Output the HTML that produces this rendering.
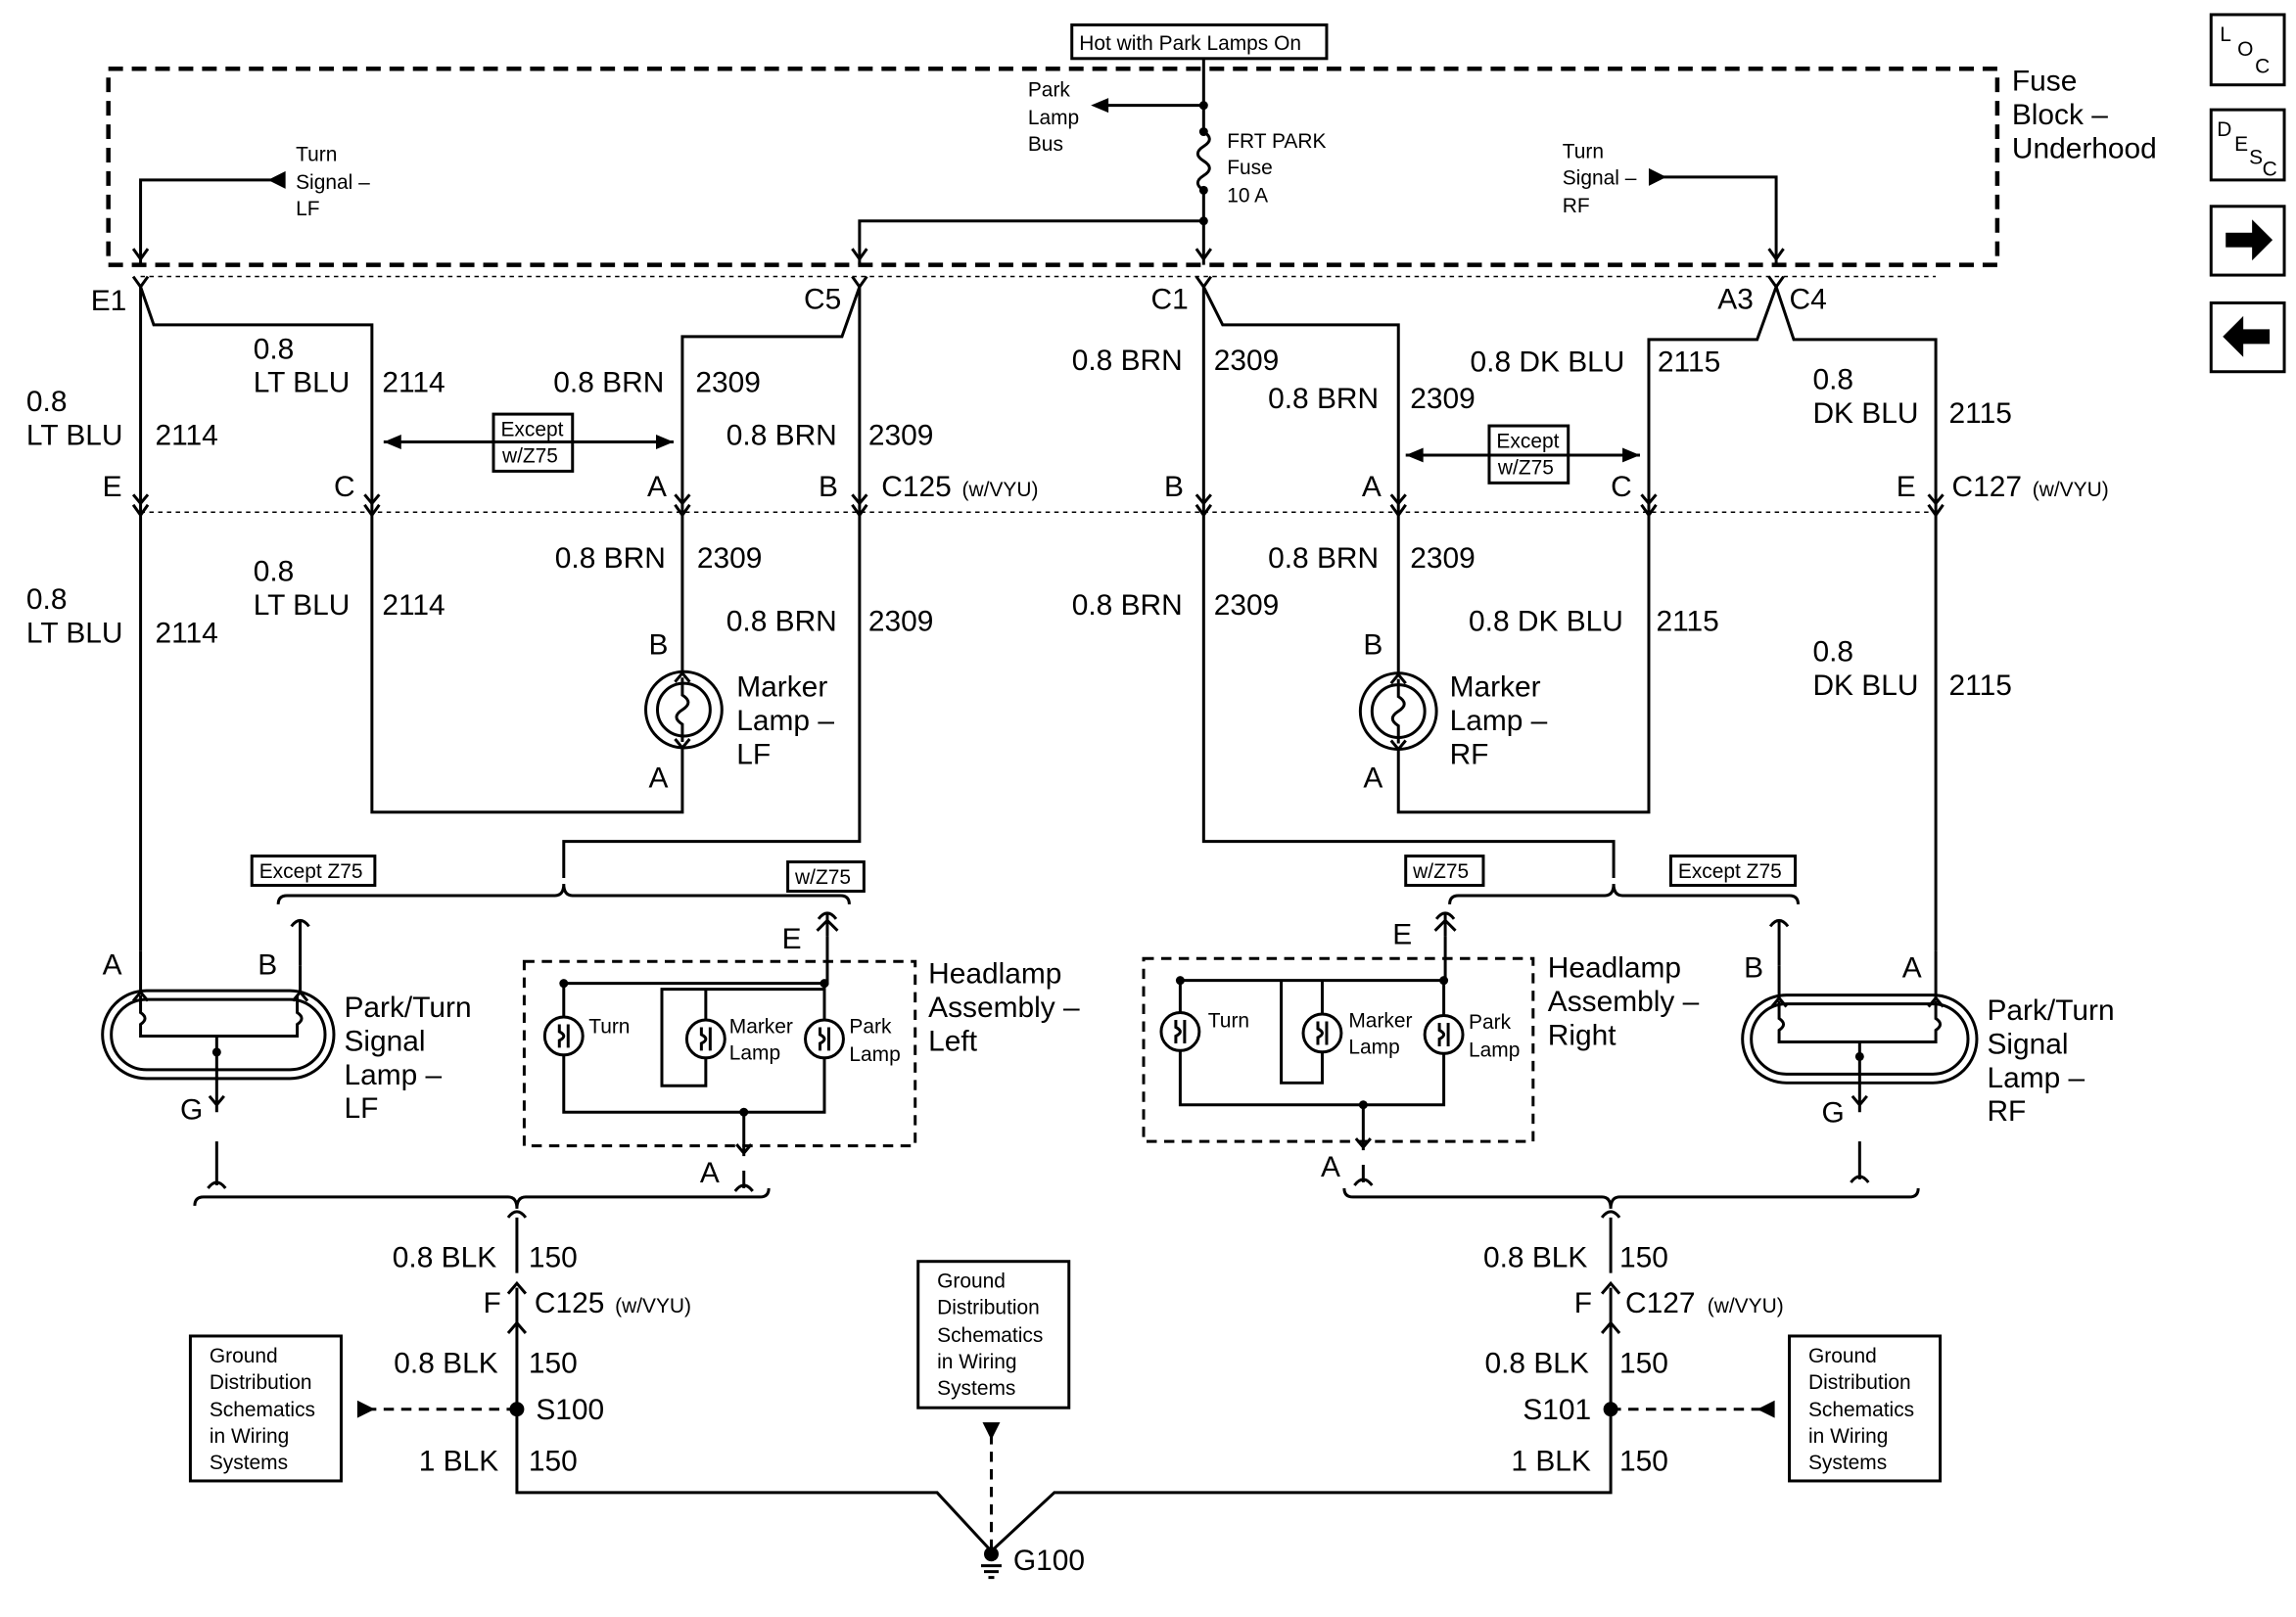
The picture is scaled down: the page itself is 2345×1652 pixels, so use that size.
<!DOCTYPE html>
<html><head><meta charset="utf-8"><style>
html,body{margin:0;padding:0;background:#fff;}
svg{display:block;}
text{font-family:"Liberation Sans",Arial,sans-serif;fill:#000;}
.l{font-size:20px;}
.s{font-size:14px;}
.w{stroke:#000;stroke-width:2;fill:none;}
.d{stroke:#000;stroke-width:2;fill:none;stroke-dasharray:7,5;}
.dt{stroke:#000;stroke-width:1;fill:none;stroke-dasharray:3,3;}
.dk{stroke:#000;stroke-width:3;fill:none;stroke-dasharray:10,6;}
</style></head><body>
<svg width="2345" height="1652" viewBox="0 0 1568 1105" preserveAspectRatio="none" xmlns="http://www.w3.org/2000/svg">
<defs>
<g id="cv"><path d="M-5,-7 L0,0 L5,-7" class="w"/></g>
<g id="bulb"><circle r="13" class="w"/><path d="M-3,-8 L-3,-3 q6,3 0,6 L-3,8 M3,-8 L3,8" class="w" stroke-width="1.5"/></g>
</defs>

<rect x="732" y="17" width="174" height="23" class="w"/>
<text x="737" y="34" class="s">Hot with Park Lamps On</text>
<rect x="74" y="47" width="1290" height="134" class="dk"/>
<text x="1374" y="62" class="l">Fuse</text>
<text x="1374" y="85" class="l">Block –</text>
<text x="1374" y="108" class="l">Underhood</text>

<rect x="1510" y="10" width="50" height="48" class="w"/>
<text x="1516" y="28" class="s">L</text><text x="1528" y="38" class="s">O</text><text x="1540" y="50" class="s">C</text>
<rect x="1510" y="75" width="50" height="48" class="w"/>
<text x="1514" y="93" class="s">D</text><text x="1526" y="103" class="s">E</text><text x="1536" y="112" class="s">S</text><text x="1545" y="120" class="s">C</text>
<rect x="1510" y="141" width="50" height="47" class="w"/>
<path d="M1520,159 h18 v-9 l14,14 l-14,14 v-9 h-18z" fill="#000"/>
<rect x="1510" y="207" width="50" height="47" class="w"/>
<path d="M1550,225 h-18 v-9 l-14,14 l14,14 v-9 h18z" fill="#000"/>

<path d="M822,40 V90 M822,130 V181" class="w"/>
<path d="M822,90 q8,5 0,10 q-8,5 0,10 q8,5 0,10 q-8,5 0,10" class="w"/>
<circle cx="822" cy="72" r="3"/><circle cx="822" cy="90" r="3"/><circle cx="822" cy="130" r="3"/><circle cx="822" cy="151" r="3"/>
<path d="M822,72 H755" class="w"/><path d="M745,72 l12,-5 v10z"/>
<text x="702" y="66" class="s">Park</text><text x="702" y="85" class="s">Lamp</text><text x="702" y="103" class="s">Bus</text>
<text x="838" y="101" class="s">FRT PARK</text><text x="838" y="119" class="s">Fuse</text><text x="838" y="138" class="s">10 A</text>
<path d="M822,151 H587 V181" class="w"/>
<path d="M185,123 H96 V181" class="w"/><path d="M183,123 l12,-6 v12z"/>
<text x="202" y="110" class="s">Turn</text><text x="202" y="129" class="s">Signal –</text><text x="202" y="147" class="s">LF</text>
<path d="M1130,121 H1213 V181" class="w"/><path d="M1138,121 l-12,-6 v12z"/>
<text x="1067" y="108" class="s">Turn</text><text x="1067" y="126" class="s">Signal –</text><text x="1067" y="145" class="s">RF</text>
<path d="M96,177 l-5,-7 M96,177 l5,-7 M587,177 l-5,-7 M587,177 l5,-7 M822,177 l-5,-7 M822,177 l5,-7 M1213,177 l-5,-7 M1213,177 l5,-7" class="w"/>

<path d="M96,189 H1322" class="dt"/>
<use href="#cv" x="96" y="196"/><use href="#cv" x="587" y="196"/><use href="#cv" x="822" y="196"/><use href="#cv" x="1213" y="196"/>
<text x="62" y="212" class="l">E1</text><text x="549" y="211" class="l">C5</text><text x="786" y="211" class="l">C1</text><text x="1173" y="211" class="l">A3</text><text x="1222" y="211" class="l">C4</text>
<path d="M96,196 V650" class="w"/>
<path d="M96,196 L105,222 H254 V350" class="w"/>
<path d="M587,196 V575 H385 V600" class="w"/>
<path d="M587,196 L575,230 H466 V350" class="w"/>
<path d="M822,196 V575 H1102 V600" class="w"/>
<path d="M822,196 L835,222 H955 V350" class="w"/>
<path d="M1213,196 L1200,232 H1126 V350" class="w"/>
<path d="M1213,196 L1225,232 H1322 V650" class="w"/>

<text x="18" y="281" class="l">0.8</text><text x="18" y="304" class="l">LT BLU</text><text x="106" y="304" class="l">2114</text>
<text x="173" y="245" class="l">0.8</text><text x="173" y="268" class="l">LT BLU</text><text x="261" y="268" class="l">2114</text>
<text x="378" y="268" class="l">0.8 BRN</text><text x="475" y="268" class="l">2309</text>
<text x="496" y="304" class="l">0.8 BRN</text><text x="593" y="304" class="l">2309</text>
<text x="732" y="253" class="l">0.8 BRN</text><text x="829" y="253" class="l">2309</text>
<text x="866" y="279" class="l">0.8 BRN</text><text x="963" y="279" class="l">2309</text>
<text x="1004" y="254" class="l">0.8 DK BLU</text><text x="1132" y="254" class="l">2115</text>
<text x="1238" y="266" class="l">0.8</text><text x="1238" y="289" class="l">DK BLU</text><text x="1331" y="289" class="l">2115</text>

<path d="M262,302 H460" class="w"/><path d="M262,302 l12,-5 v10z"/><path d="M460,302 l-12,-5 v10z"/>
<rect x="337" y="283" width="54" height="39" fill="#fff" class="w"/>
<text x="342" y="298" class="s">Except</text><text x="343" y="316" class="s">w/Z75</text>
<path d="M960,311 H1120" class="w"/><path d="M960,311 l12,-5 v10z"/><path d="M1120,311 l-12,-5 v10z"/>
<rect x="1017" y="291" width="54" height="39" fill="#fff" class="w"/>
<text x="1022" y="306" class="s">Except</text><text x="1023" y="324" class="s">w/Z75</text>

<path d="M96,350 H1322" class="dt"/>
<use href="#cv" x="96" y="352"/><use href="#cv" x="254" y="352"/><use href="#cv" x="466" y="352"/><use href="#cv" x="587" y="352"/>
<use href="#cv" x="822" y="352"/><use href="#cv" x="955" y="352"/><use href="#cv" x="1126" y="352"/><use href="#cv" x="1322" y="352"/>
<path d="M96,344 l-5,-6 M96,344 l5,-6 M254,344 l-5,-6 M254,344 l5,-6 M466,344 l-5,-6 M466,344 l5,-6 M587,344 l-5,-6 M587,344 l5,-6 M822,344 l-5,-6 M822,344 l5,-6 M955,344 l-5,-6 M955,344 l5,-6 M1126,344 l-5,-6 M1126,344 l5,-6 M1322,344 l-5,-6 M1322,344 l5,-6" class="w"/>
<text x="70" y="339" class="l">E</text><text x="228" y="339" class="l">C</text><text x="442" y="339" class="l">A</text><text x="559" y="339" class="l">B</text>
<text x="602" y="339" class="l">C125</text><text x="657" y="339" class="s">(w/VYU)</text>
<text x="795" y="339" class="l">B</text><text x="930" y="339" class="l">A</text><text x="1100" y="339" class="l">C</text><text x="1295" y="339" class="l">E</text>
<text x="1333" y="339" class="l">C127</text><text x="1388" y="339" class="s">(w/VYU)</text>

<text x="18" y="416" class="l">0.8</text><text x="18" y="439" class="l">LT BLU</text><text x="106" y="439" class="l">2114</text>
<text x="173" y="397" class="l">0.8</text><text x="173" y="420" class="l">LT BLU</text><text x="261" y="420" class="l">2114</text>
<text x="379" y="388" class="l">0.8 BRN</text><text x="476" y="388" class="l">2309</text>
<text x="496" y="431" class="l">0.8 BRN</text><text x="593" y="431" class="l">2309</text>
<text x="732" y="420" class="l">0.8 BRN</text><text x="829" y="420" class="l">2309</text>
<text x="866" y="388" class="l">0.8 BRN</text><text x="963" y="388" class="l">2309</text>
<text x="1003" y="431" class="l">0.8 DK BLU</text><text x="1131" y="431" class="l">2115</text>
<text x="1238" y="452" class="l">0.8</text><text x="1238" y="475" class="l">DK BLU</text><text x="1331" y="475" class="l">2115</text>

<path d="M466,350 V459 M466,511 V555 H254 V350" class="w"/>
<circle cx="467" cy="485" r="26" class="w" stroke-width="2.5"/><circle cx="467" cy="485" r="18" class="w" stroke-width="1.2"/>
<path d="M466,463 V475 q8,5 0,10 q-8,5 0,10 V507" class="w" stroke-width="1.5"/>
<path d="M461,466 l5,-6 l5,6 M461,505 l5,6 l5,-6" class="w" stroke-width="1.5"/>
<text x="443" y="447" class="l">B</text><text x="443" y="538" class="l">A</text>
<text x="503" y="476" class="l">Marker</text><text x="503" y="499" class="l">Lamp –</text><text x="503" y="522" class="l">LF</text>
<path d="M955,350 V460 M955,512 V555 H1126 V350" class="w"/>
<circle cx="955" cy="486" r="26" class="w" stroke-width="2.5"/><circle cx="955" cy="486" r="18" class="w" stroke-width="1.2"/>
<path d="M955,464 V476 q8,5 0,10 q-8,5 0,10 V508" class="w" stroke-width="1.5"/>
<path d="M950,467 l5,-6 l5,6 M950,506 l5,6 l5,-6" class="w" stroke-width="1.5"/>
<text x="931" y="447" class="l">B</text><text x="931" y="538" class="l">A</text>
<text x="990" y="476" class="l">Marker</text><text x="990" y="499" class="l">Lamp –</text><text x="990" y="522" class="l">RF</text>

<path d="M190,618 q0,-6 6,-6 H379 q6,0 6,-8 q0,8 6,8 H574 q6,0 6,6" class="w"/>
<path d="M205,660 V630 M199,633 q6,-8 12,0" class="w"/>
<path d="M565,640 V625 M559,628 q6,-8 12,0 M558,636 l7,-7 l7,7" class="w"/>
<rect x="172" y="585" width="84" height="20" fill="#fff" class="w"/><text x="177" y="600" class="s">Except Z75</text>
<rect x="538" y="589" width="52" height="20" fill="#fff" class="w"/><text x="543" y="604" class="s">w/Z75</text>
<path d="M990,618 q0,-6 6,-6 H1096 q6,0 6,-8 q0,8 6,8 H1222 q6,0 6,6" class="w"/>
<path d="M987,640 V625 M981,628 q6,-8 12,0 M980,636 l7,-7 l7,7" class="w"/>
<path d="M1215,660 V630 M1209,633 q6,-8 12,0" class="w"/>
<rect x="960" y="585" width="53" height="20" fill="#fff" class="w"/><text x="965" y="600" class="s">w/Z75</text>
<rect x="1141" y="585" width="85" height="20" fill="#fff" class="w"/><text x="1146" y="600" class="s">Except Z75</text>

<rect x="70" y="677" width="158" height="60" rx="30" class="w" stroke-width="2.5"/>
<rect x="76" y="683" width="146" height="48" rx="24" class="w" stroke-width="1"/>
<path d="M96,650 V678 M205,660 V678 M96,680 v12 q6,4 0,8 v8 H203 v-8 q6,-4 0,-8 v-12" class="w" stroke-width="1.5"/>
<path d="M91,684 l5,-6 l5,6 M200,684 l5,-6 l5,6" class="w" stroke-width="1.5"/>
<circle cx="148" cy="719" r="3"/><path d="M148,708 V760 M143,749 l5,6 l5,-6 M148,780 V810 M142,812 q6,-8 12,0" class="w"/>
<text x="70" y="666" class="l">A</text><text x="176" y="666" class="l">B</text><text x="123" y="765" class="l">G</text>
<text x="235" y="695" class="l">Park/Turn</text><text x="235" y="718" class="l">Signal</text><text x="235" y="741" class="l">Lamp –</text><text x="235" y="764" class="l">LF</text>

<rect x="358" y="657" width="267" height="126" class="d" stroke-width="2.5"/>
<path d="M565,640 V672 H385 V696 M385,720 V760 H563 V722 M563,698 V672 M482,698 V676 H563 M482,722 V742 H452 V676 H482" class="w" stroke-width="1.5"/>
<circle cx="385" cy="672" r="3"/><circle cx="563" cy="672" r="3"/><circle cx="508" cy="760" r="3"/>
<use href="#bulb" x="385" y="708"/><use href="#bulb" x="482" y="710"/><use href="#bulb" x="563" y="710"/>
<text x="402" y="706" class="s">Turn</text><text x="498" y="706" class="s">Marker</text><text x="498" y="724" class="s">Lamp</text><text x="580" y="706" class="s">Park</text><text x="580" y="725" class="s">Lamp</text>
<path d="M508,760 V790 M503,782 l5,6 l5,-6 M508,800 V812 M502,814 q6,-8 12,0" class="w"/>
<text x="534" y="648" class="l">E</text><text x="478" y="808" class="l">A</text>
<text x="634" y="672" class="l">Headlamp</text><text x="634" y="695" class="l">Assembly –</text><text x="634" y="718" class="l">Left</text>

<rect x="781" y="655" width="266" height="125" class="d" stroke-width="2.5"/>
<path d="M987,640 V670 H806 V693 M806,717 V755 H986 V719 M986,695 V670 M903,694 V670 M903,718 V740 H875 V670" class="w" stroke-width="1.5"/>
<circle cx="806" cy="670" r="3"/><circle cx="986" cy="670" r="3"/><circle cx="931" cy="755" r="3"/>
<use href="#bulb" x="806" y="705"/><use href="#bulb" x="903" y="706"/><use href="#bulb" x="986" y="707"/>
<text x="825" y="702" class="s">Turn</text><text x="921" y="702" class="s">Marker</text><text x="921" y="720" class="s">Lamp</text><text x="1003" y="703" class="s">Park</text><text x="1003" y="722" class="s">Lamp</text>
<path d="M931,755 V786 M926,778 l5,6 l5,-6 M931,796 V808 M925,810 q6,-8 12,0" class="w"/>
<text x="951" y="645" class="l">E</text><text x="902" y="804" class="l">A</text>
<text x="1057" y="668" class="l">Headlamp</text><text x="1057" y="691" class="l">Assembly –</text><text x="1057" y="714" class="l">Right</text>

<rect x="1190" y="680" width="160" height="60" rx="30" class="w" stroke-width="2.5"/>
<rect x="1196" y="686" width="148" height="48" rx="24" class="w" stroke-width="1"/>
<path d="M1215,660 V682 M1322,650 V682 M1215,684 v12 q6,4 0,8 v8 H1322 v-8 q6,-4 0,-8 v-12" class="w" stroke-width="1.5"/>
<path d="M1210,688 l5,-6 l5,6 M1317,688 l5,-6 l5,6" class="w" stroke-width="1.5"/>
<circle cx="1270" cy="722" r="3"/><path d="M1270,712 V760 M1265,749 l5,6 l5,-6 M1270,780 V806 M1264,808 q6,-8 12,0" class="w"/>
<text x="1191" y="668" class="l">B</text><text x="1299" y="668" class="l">A</text><text x="1244" y="767" class="l">G</text>
<text x="1357" y="697" class="l">Park/Turn</text><text x="1357" y="720" class="l">Signal</text><text x="1357" y="743" class="l">Lamp –</text><text x="1357" y="766" class="l">RF</text>

<path d="M133,824 q0,-6 6,-6 H347 q6,0 6,8 q0,-8 6,-8 H519 q6,0 6,-6" class="w"/>
<path d="M918,812 q0,6 6,6 H1094 q6,0 6,8 q0,-8 6,-8 H1304 q6,0 6,-6" class="w"/>
<path d="M347,832 q6,-8 12,0 M1094,832 q6,-8 12,0" class="w"/>
<path d="M353,880 V1020 H640 L677,1060 L720,1020 H1100 V880" class="w"/>
<path d="M347,884 l6,-7 l6,7 M353,870 V832 M1094,884 l6,-7 l6,7 M1100,870 V832" class="w"/>
<path d="M347,911 l6,-7 l6,7 M1094,911 l6,-7 l6,7" class="w"/>
<circle cx="353" cy="963" r="5"/><circle cx="1100" cy="963" r="5"/>
<text x="268" y="866" class="l">0.8 BLK</text><text x="361" y="866" class="l">150</text>
<text x="330" y="897" class="l">F</text><text x="365" y="897" class="l">C125</text><text x="420" y="897" class="s">(w/VYU)</text>
<text x="269" y="938" class="l">0.8 BLK</text><text x="361" y="938" class="l">150</text>
<text x="366" y="970" class="l">S100</text>
<text x="286" y="1005" class="l">1 BLK</text><text x="361" y="1005" class="l">150</text>
<text x="1013" y="866" class="l">0.8 BLK</text><text x="1106" y="866" class="l">150</text>
<text x="1075" y="897" class="l">F</text><text x="1110" y="897" class="l">C127</text><text x="1166" y="897" class="s">(w/VYU)</text>
<text x="1014" y="938" class="l">0.8 BLK</text><text x="1106" y="938" class="l">150</text>
<text x="1040" y="970" class="l">S101</text>
<text x="1032" y="1005" class="l">1 BLK</text><text x="1106" y="1005" class="l">150</text>

<rect x="130" y="913" width="103" height="99" class="w"/>
<text x="143" y="931" class="s">Ground</text><text x="143" y="949" class="s">Distribution</text><text x="143" y="968" class="s">Schematics</text><text x="143" y="986" class="s">in Wiring</text><text x="143" y="1004" class="s">Systems</text>
<path d="M353,963 H250" class="d"/><path d="M256,963 l-12,-6 v12z"/>
<rect x="627" y="862" width="103" height="100" class="w"/>
<text x="640" y="880" class="s">Ground</text><text x="640" y="898" class="s">Distribution</text><text x="640" y="917" class="s">Schematics</text><text x="640" y="935" class="s">in Wiring</text><text x="640" y="953" class="s">Systems</text>
<path d="M677,980 V1058" class="d"/><path d="M677,984 l-6,-12 h12z"/>
<rect x="1222" y="913" width="103" height="99" class="w"/>
<text x="1235" y="931" class="s">Ground</text><text x="1235" y="949" class="s">Distribution</text><text x="1235" y="968" class="s">Schematics</text><text x="1235" y="986" class="s">in Wiring</text><text x="1235" y="1004" class="s">Systems</text>
<path d="M1100,963 H1205" class="d"/><path d="M1200,963 l12,-6 v12z"/>
<circle cx="677" cy="1062" r="5"/>
<path d="M670,1070 H684 M672,1074 H682 M675,1078 H679" class="w" stroke-width="1.5"/>
<text x="692" y="1073" class="l">G100</text>
</svg>
</body></html>
